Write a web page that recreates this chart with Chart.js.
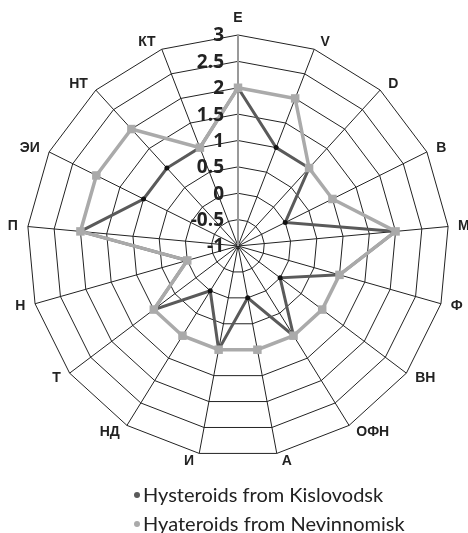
<!DOCTYPE html>
<html>
<head>
<meta charset="utf-8">
<script src="https://cdn.jsdelivr.net/npm/chart.js@4"></script>
<style>
    html, body { margin: 0; padding: 0; background: #fff; }
    canvas { display: block; }
</style>
</head>
<body>
<canvas id="myChart" width="468" height="533"></canvas>
<script>
const labels = ['E', 'V', 'D', 'B', 'M', 'Ф', 'ВН', 'ОФН', 'А', 'И', 'НД', 'Т', 'Н', 'П', 'ЭИ', 'НТ', 'КТ'];
const kislovodsk = [2, 1, 1, 0, 2, 1, 0, 1, 0, 1, 0, 1, 0, 2, 1, 1, 1];
const nevinnomisk = [2, 2, 1, 1, 2, 1, 1, 1, 1, 1, 1, 1, 0, 2, 2, 2, 1];
const seriesNames = ['Hysteroids from Kislovodsk', 'Hyateroids from Nevinnomisk'];
const scaleMin = -1;
const scaleMax = 3;
const scaleStep = 0.5;

const darkColor = '#5a5a5a';
const lightColor = '#aaaaaa';

// axis labels, value labels and legend drawn by hand, Excel style
const decorPlugin = {
    id: 'decor',
    afterDraw(chart) {
        const ctx = chart.ctx;
        const scale = chart.scales.r;
        const n = chart.data.labels.length;
        ctx.save();

        // point labels
        ctx.font = 'bold 14px "Liberation Sans", Arial, sans-serif';
        ctx.fillStyle = '#222';
        ctx.textBaseline = 'middle';
        chart.data.labels.forEach((lab, i) => {
            const p = scale.getPointPosition(i, scale.drawingArea);
            const a = i * 2 * Math.PI / n;
            const s = Math.sin(a);
            const c = Math.cos(a);
            let x = p.x;
            if (Math.abs(s) < 0.05) {
                ctx.textAlign = 'center';
            } else if (s > 0) {
                ctx.textAlign = 'left';
                x += 4 + 6 * Math.abs(s);
            } else {
                ctx.textAlign = 'right';
                x -= 4 + 6 * Math.abs(s);
            }
            let y = p.y - c * 7.5;
            if (Math.abs(s) < 0.05 && c > 0) y -= 9.5;
            ctx.fillText(lab, x, y);
        });

        // value labels left of the vertical axis
        ctx.font = 'bold 19px "Open Sans", sans-serif';
        ctx.textAlign = 'right';
        scale.ticks.forEach(t => {
            const y = scale.yCenter - scale.getDistanceFromCenterForValue(t.value);
            ctx.fillText(String(t.value), scale.xCenter - 14, y + 1);
        });

        // legend
        ctx.font = '20px Lato, sans-serif';
        ctx.textAlign = 'left';
        const colors = [darkColor, lightColor];
        seriesNames.forEach((name, i) => {
            const y = 496 + i * 29;
            ctx.fillStyle = colors[i];
            ctx.beginPath();
            ctx.arc(137, y - 1, 3, 0, 2 * Math.PI);
            ctx.fill();
            ctx.fillStyle = '#222';
            ctx.fillText(name, 143, y);
        });
        ctx.restore();
    }
};

function renderChart() {
    const ctx = document.getElementById('myChart').getContext('2d');
    new Chart(ctx, {
        type: 'radar',
        data: {
            labels: labels,
            datasets: [{
                label: seriesNames[0],
                data: kislovodsk,
                borderColor: darkColor,
                backgroundColor: '#111',
                borderWidth: 3,
                pointRadius: 2.5,
                pointBorderWidth: 0,
                pointBackgroundColor: '#111',
                fill: false,
                order: 1
            }, {
                label: seriesNames[1],
                data: nevinnomisk,
                borderColor: lightColor,
                backgroundColor: lightColor,
                borderWidth: 3.5,
                pointStyle: 'rect',
                pointRadius: 6,
                pointBorderWidth: 0,
                pointBackgroundColor: lightColor,
                fill: false,
                order: 0
            }]
        },
        options: {
            responsive: false,
            animation: false,
            layout: {
                padding: { left: 27, right: 19, top: 35, bottom: 76 }
            },
            plugins: {
                legend: { display: false },
                tooltip: { enabled: false }
            },
            scales: {
                r: {
                    min: scaleMin,
                    max: scaleMax,
                    ticks: { display: false, stepSize: scaleStep },
                    pointLabels: { display: false },
                    grid: { color: '#222', lineWidth: 1 },
                    angleLines: {
                        color: c => c.index === 0 ? '#999' : '#222',
                        lineWidth: c => c.index === 0 ? 2 : 1
                    }
                }
            }
        },
        plugins: [decorPlugin]
    });
}

renderChart();
</script>
</body>
</html>
